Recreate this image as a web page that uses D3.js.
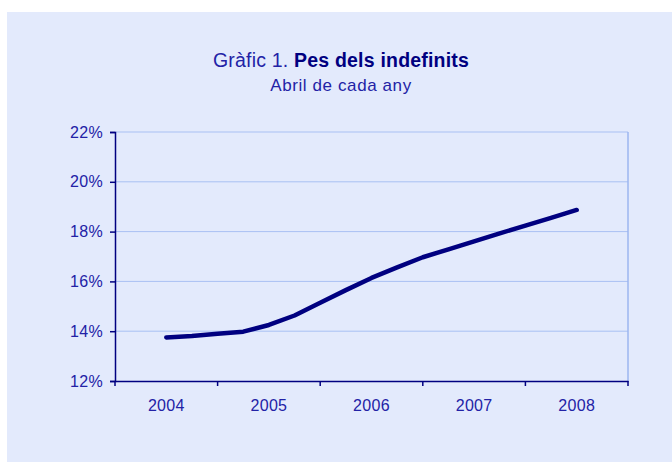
<!DOCTYPE html>
<html>
<head>
<meta charset="utf-8">
<script src="https://cdn.jsdelivr.net/npm/d3@7"></script>
<style>
  body { margin: 0; background: #fff; }
  svg { display: block; font-family: "Liberation Sans", Arial, sans-serif; }
</style>
</head>
<body>
<div id="chart"></div>
<script>
const years = ["2004", "2005", "2006", "2007", "2008"];
// quarterly readings between each April, position in years from April 2004
const steps = [0, 0.25, 0.5, 0.75, 1, 1.25, 1.5, 1.75, 2, 2.25, 2.5, 2.75, 3, 3.25, 3.5, 3.75, 4];
const values = [13.75, 13.81, 13.9, 13.98, 14.25, 14.63, 15.14, 15.65, 16.14, 16.56, 16.97, 17.29, 17.61, 17.93, 18.24, 18.55, 18.87];
const yTicks = [12, 14, 16, 18, 20, 22];

const W = 672, H = 462;
const margin = {top: 132, right: 44, bottom: 81, left: 115};
const width = W - margin.left - margin.right;
const height = H - margin.top - margin.bottom;

const svg = d3.select("#chart").append("svg")
    .attr("width", W)
    .attr("height", H);

svg.append("rect")
    .attr("x", 7).attr("y", 12)
    .attr("width", W - 7).attr("height", H - 12)
    .attr("fill", "#e3eafc");

const title = svg.append("text")
    .attr("x", 341).attr("y", 67)
    .attr("text-anchor", "middle")
    .attr("fill", "#2222a6")
    .style("font-size", "19.5px")
    .style("letter-spacing", "0.2px");
title.append("tspan").text("Gràfic 1. ");
title.append("tspan").attr("font-weight", "bold").attr("fill", "#000080").text("Pes dels indefinits");

svg.append("text")
    .attr("x", 341).attr("y", 91)
    .attr("text-anchor", "middle")
    .attr("fill", "#2222a6")
    .style("font-size", "17px")
    .style("letter-spacing", "0.6px")
    .text("Abril de cada any");

const g = svg.append("g")
    .attr("transform", "translate(" + margin.left + "," + margin.top + ")");

const x = d3.scaleBand().domain(years).range([0, width]);
const y = d3.scaleLinear().domain([12, 22]).range([height, 0]);
const xs = d3.scaleLinear()
    .domain([0, years.length - 1])
    .range([x(years[0]) + x.bandwidth() / 2, x(years[years.length - 1]) + x.bandwidth() / 2]);

// gridlines
g.append("g")
    .selectAll("line")
    .data(yTicks.slice(1))
    .enter().append("line")
    .attr("x1", 0).attr("x2", width)
    .attr("y1", d => y(d)).attr("y2", d => y(d))
    .attr("stroke", "#a9c0f3")
    .attr("stroke-width", 1);

g.append("line")
    .attr("x1", width).attr("x2", width)
    .attr("y1", 0).attr("y2", height)
    .attr("stroke", "#9db6f0")
    .attr("stroke-width", 1.5);

// y axis
const yAxis = g.append("g")
    .call(d3.axisLeft(y).tickValues(yTicks).tickSize(5).tickPadding(7).tickFormat(d => d + "%"));
yAxis.select(".domain").attr("stroke", "#000080").attr("stroke-width", 1.5);
yAxis.selectAll(".tick line").attr("stroke", "#000080").attr("stroke-width", 1.5);
yAxis.selectAll("text")
    .attr("fill", "#2222a6")
    .style("font-size", "16px")
    .style("letter-spacing", "0.3px")
    .style("font-family", "Liberation Sans, Arial, sans-serif");

// x axis
const xAxis = g.append("g")
    .attr("transform", "translate(0," + height + ")")
    .call(d3.axisBottom(x).tickSize(0).tickPadding(19));
xAxis.select(".domain").attr("stroke", "#000080").attr("stroke-width", 1.5);
xAxis.selectAll("text")
    .attr("fill", "#2222a6")
    .style("font-size", "16px")
    .style("letter-spacing", "0.3px")
    .style("font-family", "Liberation Sans, Arial, sans-serif");
xAxis.selectAll(".bound")
    .data(d3.range(years.length + 1))
    .enter().append("line")
    .attr("class", "bound")
    .attr("x1", i => i * x.step()).attr("x2", i => i * x.step())
    .attr("y1", 0).attr("y2", 5)
    .attr("stroke", "#000080")
    .attr("stroke-width", 1.5);

// series line
const line = d3.line()
    .x((d, i) => xs(steps[i]))
    .y(d => y(d));

g.append("path")
    .datum(values)
    .attr("fill", "none")
    .attr("stroke", "#000080")
    .attr("stroke-width", 4.5)
    .attr("stroke-linecap", "round")
    .attr("stroke-linejoin", "round")
    .attr("d", line);
</script>
</body>
</html>
